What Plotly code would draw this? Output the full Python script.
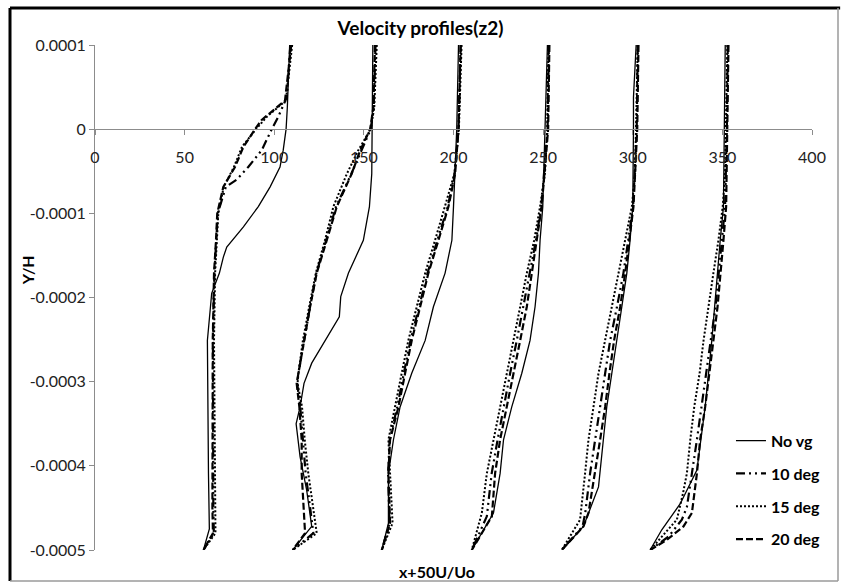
import plotly.graph_objects as go

# y values are in units of 1e-4 (y/H), x values are x+50U/Uo
# ---------------- No vg ----------------
novg_y = [
    [1.0, 0.5, 0.26, 0, -0.25, -0.45, -0.685, -0.92, -1.16, -1.40, -1.52, -1.71, -1.95, -2.51, -3.30, -4.09, -4.75, -5.0],
    [1.0, 0, -0.53, -0.92, -1.32, -1.71, -1.99, -2.23, -2.51, -2.78, -3.02, -3.30, -3.50, -3.89, -4.29, -4.72, -5.0],
    [1.0, 0, -0.92, -1.32, -1.71, -2.11, -2.51, -2.90, -3.30, -3.69, -4.09, -4.68, -5.0],
    [1.0, 0, -0.92, -1.32, -1.71, -2.11, -2.51, -2.90, -3.30, -3.69, -4.09, -4.56, -5.0],
    [1.0, 0.38, 0, -0.92, -1.32, -1.71, -2.11, -2.51, -2.90, -3.30, -3.69, -4.25, -4.72, -5.0],
    [1.0, 0, -0.92, -1.32, -1.71, -2.11, -2.51, -2.90, -3.30, -3.69, -4.05, -4.45, -4.76, -5.0],
]
novg_x = [
    [108.6, 108, 107.3, 106.6, 105, 103.2, 97.7, 91.1, 82.8, 73.5, 71.6, 69.4, 65.1, 62.7, 62.9, 63.3, 63.8, 60.5],
    [155.0, 154.4, 154.4, 153.1, 149.7, 141.4, 137.1, 136.3, 128.3, 120.9, 116.6, 114.4, 112.2, 114.4, 118.1, 120.9, 110.3],
    [202.8, 201.8, 200, 199.1, 195.3, 188.8, 184.2, 176.7, 170.2, 166.5, 163.7, 163.7, 160],
    [252.4, 251.1, 249.8, 248.3, 247.4, 245.5, 242.7, 238.1, 232.5, 227.9, 226, 222.3, 210.2],
    [301.9, 300.4, 300.4, 300, 298.5, 296.7, 293.9, 291.1, 288.3, 285.5, 283.6, 280.9, 272.5, 260.4],
    [351.6, 351, 350.6, 348.8, 347.3, 346, 344.1, 342.3, 340.4, 338, 335.8, 326.5, 316.2, 309.7],
]

# ---------------- 10 deg ----------------
deg10_y = [
    [1.0, 0.38, 0.15, 0, -0.25, -0.45, -0.60, -0.685, -1.0, -1.32, -1.71, -2.51, -3.5, -4.5, -4.8, -5.0],
    [1.0, 0.26, 0, -0.25, -0.53, -0.92, -1.32, -1.71, -2.11, -2.51, -2.90, -3.02, -3.30, -3.69, -4.09, -4.49, -4.80, -5.0],
    [1.0, 0, -0.53, -0.92, -1.32, -1.71, -2.11, -2.51, -2.90, -3.30, -3.69, -4.09, -4.68, -5.0],
    [1.0, 0, -0.92, -1.32, -1.71, -2.11, -2.51, -2.90, -3.30, -3.69, -4.09, -4.60, -5.0],
    [1.0, 0, -0.92, -1.32, -1.71, -2.11, -2.51, -2.90, -3.30, -3.69, -4.09, -4.56, -4.72, -5.0],
    [1.0, 0, -0.92, -1.32, -1.71, -2.11, -2.51, -2.90, -3.30, -3.69, -4.09, -4.49, -4.64, -4.84, -5.0],
]
deg10_x = [
    [109, 107, 102.3, 98.6, 93, 85.5, 79, 73, 68.5, 67.5, 66.6, 65.8, 65.8, 66, 66.3, 60.5],
    [156.5, 155.5, 153.8, 148.8, 143, 134.5, 129, 123.5, 120, 116.6, 113.5, 112.8, 114.5, 116, 117.5, 120, 121.8, 110.3],
    [204, 202.8, 200.6, 196.8, 191, 185.5, 180.8, 176, 172.3, 168.6, 164.4, 163.5, 164.3, 160],
    [253.2, 252.5, 249, 246, 242.5, 239, 235.3, 231.6, 227.9, 224.6, 221.3, 218.6, 210.2],
    [302.8, 302.2, 300.2, 297.6, 294.8, 291.2, 287.4, 284.6, 281.8, 279, 276.2, 273.5, 272, 260.4],
    [353, 352.5, 351.5, 349.8, 348, 346.2, 343.5, 341, 338.5, 335.8, 333, 330.2, 327.4, 320, 309.7],
]

# ---------------- 15 deg ----------------
deg15_y = [
    [1.0, 0.34, 0.15, 0, -0.21, -0.45, -0.685, -1.0, -1.32, -1.71, -2.51, -3.5, -4.5, -4.8, -5.0],
    [1.0, 0.26, 0, -0.25, -0.53, -0.92, -1.32, -1.71, -2.11, -2.51, -2.90, -3.02, -3.30, -3.69, -4.09, -4.49, -4.80, -5.0],
    [1.0, 0, -0.53, -0.92, -1.32, -1.71, -2.11, -2.51, -2.90, -3.30, -3.69, -4.09, -4.68, -5.0],
    [1.0, 0, -0.53, -0.92, -1.32, -1.71, -2.11, -2.51, -2.90, -3.30, -3.69, -4.09, -4.56, -5.0],
    [1.0, 0, -0.53, -0.92, -1.32, -1.71, -2.11, -2.51, -2.90, -3.30, -3.69, -4.09, -4.64, -5.0],
    [1.0, 0, -0.53, -0.92, -1.32, -1.71, -2.11, -2.51, -2.90, -3.30, -3.69, -4.09, -4.33, -4.64, -5.0],
]
deg15_x = [
    [110, 106.5, 96, 89.8, 82, 77.5, 71.8, 68.8, 68, 67, 66.4, 66.6, 67, 67.2, 60.5],
    [157.2, 155.8, 153.8, 146.9, 140.5, 133, 128.3, 123.2, 119.5, 116, 113.5, 113, 115.5, 117, 119, 121.8, 123.7, 110.3],
    [204.5, 203, 200.5, 195.3, 189.7, 184.2, 179.5, 174.8, 171.1, 167.4, 163.7, 164.6, 166, 160],
    [253, 252.3, 251, 248.3, 245, 240.9, 237.2, 233.4, 229.7, 226, 222.3, 218.6, 215.8, 210.2],
    [302.8, 302, 301.3, 299.5, 295.8, 292, 288.3, 284.6, 280.9, 278.1, 275.3, 273.4, 270.6, 260.4],
    [352.8, 352.2, 351.5, 350.2, 347.8, 345, 342.3, 339.5, 337.3, 334.3, 332.1, 330.2, 328, 324.6, 309.7],
]

# ---------------- 20 deg ----------------
deg20_y = [
    [1.0, 0.34, 0.11, 0, -0.21, -0.45, -0.685, -1.0, -1.32, -1.71, -2.51, -3.5, -4.5, -4.8, -5.0],
    [1.0, 0.26, 0, -0.25, -0.53, -0.92, -1.32, -1.71, -2.11, -2.51, -2.90, -3.02, -3.30, -3.69, -4.09, -4.49, -4.80, -5.0],
    [1.0, 0, -0.53, -0.92, -1.32, -1.71, -2.11, -2.51, -2.90, -3.30, -3.69, -4.09, -4.68, -5.0],
    [1.0, 0, -0.92, -1.32, -1.71, -2.11, -2.51, -2.90, -3.30, -3.69, -4.09, -4.60, -5.0],
    [1.0, 0, -0.92, -1.32, -1.71, -2.11, -2.51, -2.90, -3.30, -3.69, -4.09, -4.56, -4.72, -5.0],
    [1.0, 0, -0.92, -1.32, -1.71, -2.11, -2.51, -2.90, -3.30, -3.69, -4.09, -4.56, -4.72, -4.88, -5.0],
]
deg20_x = [
    [109.5, 106, 93, 89.3, 82.8, 78.1, 71.6, 68.2, 67.5, 66.4, 65.7, 65.5, 65.5, 65.8, 60.5],
    [156.2, 155.3, 153.5, 148, 143.2, 134.9, 129.3, 123.7, 120, 116.6, 113.5, 112.5, 114, 115.3, 115.3, 116.3, 117.2, 110.3],
    [204, 202.8, 200.9, 197.2, 191.6, 186, 181.4, 176.7, 173, 169.3, 164.6, 163.7, 164.6, 160],
    [253.5, 252.8, 249.2, 246.4, 243.7, 240.9, 237.2, 233.4, 229.7, 226, 223.2, 221.4, 210.2],
    [303.2, 302.5, 300.4, 298.2, 295.8, 293, 289.6, 287, 284.6, 281.8, 279, 275.3, 272.5, 260.4],
    [353.4, 352.8, 352.1, 350.6, 348.8, 347.3, 345, 342.8, 340.4, 337.6, 335.8, 333, 328.3, 319, 309.7],
]

series_names = ["No vg", "10 deg", "15 deg", "20 deg"]
x_ticks = [0, 50, 100, 150, 200, 250, 300, 350, 400]
y_ticks = [0.0001, 0, -0.0001, -0.0002, -0.0003, -0.0004, -0.0005]
y_tick_text = ["0.0001", "0", "-0.0001", "-0.0002", "-0.0003", "-0.0004", "-0.0005"]

FONT = "Lato, 'Open Sans', sans-serif"


def join_profiles(xs, ys):
    X, Y = [], []
    for xp, yp in zip(xs, ys):
        X += xp + [None]
        Y += [v * 1e-4 for v in yp] + [None]
    return X, Y


styles = [
    dict(dash="solid", width=1.3),
    dict(dash="9px,4px,2px,4px,2px,4px", width=2.2),
    dict(dash="2px,2px", width=2.0),
    dict(dash="7px,3px", width=2.2),
]
data = [(novg_x, novg_y), (deg10_x, deg10_y), (deg15_x, deg15_y), (deg20_x, deg20_y)]

fig = go.Figure()
for i, (name, (xs, ys)) in enumerate(zip(series_names, data)):
    X, Y = join_profiles(xs, ys)
    fig.add_trace(go.Scatter(
        x=X, y=Y, mode="lines", name="<b>" + name + "</b>", legendgroup=name,
        line=dict(color="black", **styles[i]), connectgaps=False,
    ))

axis_col = "#8c8c8c"
fig.update_layout(
    width=841, height=583,
    margin=dict(l=95, r=29, t=45, b=33),
    paper_bgcolor="white", plot_bgcolor="white",
    font=dict(family=FONT, color="#222", size=16),
    title=dict(text="<b>Velocity profiles(z2)</b>", x=0.5, xanchor="center",
               y=1 - 28 / 583, yanchor="middle",
               font=dict(size=19, color="black", family=FONT)),
    xaxis=dict(range=[0, 400], tickvals=x_ticks, showgrid=False, zeroline=False,
               showline=True, linecolor=axis_col, linewidth=1,
               ticks="outside", ticklen=5, tickcolor=axis_col,
               anchor="free", position=5 / 6, ticklabelstandoff=9,
               tickfont=dict(size=16, color="#222")),
    yaxis=dict(range=[-0.0005, 0.0001], tickvals=y_ticks, ticktext=y_tick_text,
               showgrid=False, zeroline=False, showline=True, linecolor=axis_col,
               linewidth=1, ticks="outside", ticklen=5, tickcolor=axis_col,
               tickfont=dict(size=16, color="#222")),
    legend=dict(x=0.887, y=0.25, xanchor="left", yanchor="top",
                bgcolor="rgba(0,0,0,0)", tracegroupgap=9,
                font=dict(size=16, color="black", family=FONT),
                itemwidth=30),
    showlegend=True,
)

# axis titles
fig.add_annotation(text="<b>Y/H</b>", xref="paper", yref="paper",
                   x=(27 - 95) / 717, y=0.554, xanchor="center", yanchor="middle",
                   textangle=-90, showarrow=False,
                   font=dict(size=16, color="black", family=FONT))
fig.add_annotation(text="<b>x+50U/Uo</b>", xref="paper", yref="paper",
                   x=(437 - 95) / 717, y=-0.043, xanchor="center", yanchor="middle",
                   showarrow=False,
                   font=dict(size=16, color="black", family=FONT))

# chart frame: thick black top/left, grey bottom/right
fx0, fx1 = (10 - 95) / 717, (838 - 95) / 717
fy0, fy1 = (550 - 581) / 505, (550 - 8) / 505
fig.add_shape(type="line", xref="paper", yref="paper", x0=fx0, x1=fx1 + 0.003, y0=fy1, y1=fy1,
              line=dict(color="black", width=3))
fig.add_shape(type="line", xref="paper", yref="paper", x0=fx0, x1=fx0, y0=fy0, y1=fy1,
              line=dict(color="black", width=3))
fig.add_shape(type="line", xref="paper", yref="paper", x0=fx0, x1=fx1, y0=fy0, y1=fy0,
              line=dict(color="#9a9a9a", width=1.5))
fig.add_shape(type="line", xref="paper", yref="paper", x0=fx1, x1=fx1, y0=fy0, y1=fy1,
              line=dict(color="#9a9a9a", width=1.5))

fig.write_html("out.html", config={"displayModeBar": False},
               post_script="document.body.style.margin='0';document.body.style.padding='0';")
